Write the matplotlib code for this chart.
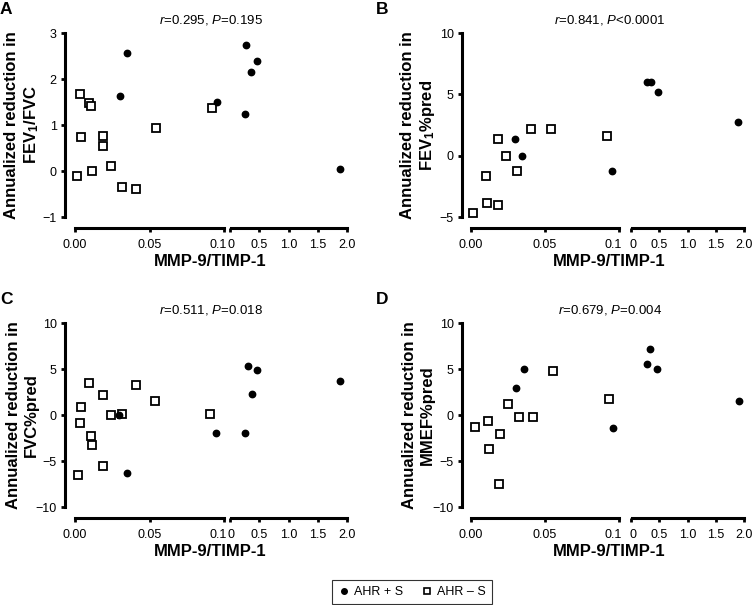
import matplotlib.pyplot as plt
from matplotlib.lines import Line2D
import matplotlib.transforms as mtransforms
import numpy as np

plt.rcParams['font.family'] = ['Liberation Sans', 'DejaVu Sans']
plt.rcParams['mathtext.fontset'] = 'custom'
plt.rcParams['mathtext.rm'] = 'Liberation Sans'
plt.rcParams['mathtext.it'] = 'Liberation Sans:italic'
plt.rcParams['mathtext.bf'] = 'Liberation Sans:bold'
plt.rcParams['mathtext.default'] = 'regular'

# ---- data (x = MMP-9/TIMP-1 ratio, y = annualized reduction) ----
# A: FEV1/FVC
a_open_x = [0.0034, 0.0095, 0.0106, 0.0038, 0.0187, 0.0185, 0.0016, 0.0115, 0.0243, 0.0318, 0.0408, 0.0543, 0.0919]
a_open_y = [1.68, 1.48, 1.41, 0.74, 0.76, 0.55, -0.10, 0.0, 0.10, -0.34, -0.40, 0.94, 1.38]
a_fill_x = [0.0349, 0.0300, 0.0953, 0.28, 0.36, 0.46, 0.25, 1.88]
a_fill_y = [2.56, 1.62, 1.51, 2.75, 2.16, 2.40, 1.25, 0.05]

# B: FEV1%pred
b_open_x = [0.0011, 0.0101, 0.0110, 0.0182, 0.0182, 0.0239, 0.0313, 0.0405, 0.0543, 0.0917]
b_open_y = [-4.65, -1.65, -3.83, -4.05, 1.38, 0.0, -1.24, 2.2, 2.2, 1.57]
b_fill_x = [0.0295, 0.0347, 0.0953, 0.28, 0.35, 0.47, 1.89]
b_fill_y = [1.38, 0.0, -1.24, 6.02, 6.02, 5.2, 2.77]

# C: FVC%pred
c_open_x = [0.0018, 0.0038, 0.0036, 0.0095, 0.0106, 0.0115, 0.0185, 0.0185, 0.0241, 0.0318, 0.0408, 0.0538, 0.0908]
c_open_y = [-6.55, 0.91, -0.91, 3.53, -2.29, -3.31, 2.15, -5.53, 0.0, 0.11, 3.31, 1.56, 0.11]
c_fill_x = [0.0297, 0.0347, 0.0946, 0.30, 0.47, 0.37, 0.26, 1.88]
c_fill_y = [0.0, -6.29, -1.93, 5.35, 4.9, 2.29, -1.93, 3.75]

# D: MMEF%pred
d_open_x = [0.0025, 0.0114, 0.0121, 0.0193, 0.0190, 0.0249, 0.0325, 0.0419, 0.0554, 0.0930]
d_open_y = [-1.27, -0.65, -3.67, -2.07, -7.49, 1.16, -0.25, -0.25, 4.73, 1.75]
d_fill_x = [0.0305, 0.0359, 0.0961, 0.28, 0.34, 0.46, 1.91]
d_fill_y = [2.98, 4.95, -1.45, 5.56, 7.16, 4.95, 1.56]

stats = ['0.295', '0.195', '0.841', '<0.0001', '0.511', '0.018', '0.679', '0.004']
ylabels = ['Annualized reduction in\nFEV$_1$/FVC',
           'Annualized reduction in\nFEV$_1$%pred',
           'Annualized reduction in\nFVC%pred',
           'Annualized reduction in\nMMEF%pred']
yticks_list = [[-1, 0, 1, 2, 3], [-5, 0, 5, 10], [-10, -5, 0, 5, 10], [-10, -5, 0, 5, 10]]

W, H = 753, 605
fig = plt.figure(figsize=(W / 100, H / 100), dpi=100)


def add_px(x0, x1, ytop, ybot):
    return fig.add_axes([x0 / W, 1 - ybot / H, (x1 - x0) / W, (ybot - ytop) / H])


def shift_label(lab, dx):
    lab.set_transform(lab.get_transform() + mtransforms.ScaledTranslation(dx / 100, 0, fig.dpi_scale_trans))


def style(ax):
    for s in ['top', 'right']:
        ax.spines[s].set_visible(False)
    ax.spines['bottom'].set_linewidth(2.2)
    ax.spines['left'].set_linewidth(2.2)
    ax.spines['bottom'].set_position(('outward', 8))
    ax.tick_params(axis='both', width=2, length=3, labelsize=9, colors='black')
    ax.tick_params(axis='x', pad=5)
    ax.tick_params(axis='y', pad=3)
    ax.patch.set_alpha(0)


def panel(letter, ox, xs, ys, ylab, yticks, stat, open_x, open_y, fill_x, fill_y):
    yspine, l0, l1, r0, r2 = xs
    ytop, ybot = ys
    axl = add_px(yspine, l1, ytop, ybot)
    axr = add_px(r0, r2, ytop, ybot)
    ox_ = np.array(open_x); oy_ = np.array(open_y)
    fx_ = np.array(fill_x); fy_ = np.array(fill_y)
    for ax, m_o, m_f in [(axl, ox_ <= 0.1, fx_ <= 0.1), (axr, ox_ > 0.1, fx_ > 0.1)]:
        ax.plot(ox_[m_o], oy_[m_o], 's', ms=6, mfc='white', mec='black', mew=1.3, clip_on=False, ls='none')
        ax.plot(fx_[m_f], fy_[m_f], 'o', ms=4.6, mfc='black', mec='black', clip_on=False, ls='none')
        style(ax)
        ax.set_ylim(yticks[0], yticks[-1])
    axl.set_xlim(-(l0 - yspine) / (l1 - l0) * 0.1, 0.1)
    axl.spines['bottom'].set_bounds(0, 0.1)
    axl.set_xticks([0, 0.05, 0.1])
    axl.set_xticklabels(['0.00', '0.05', '0.1'])
    shift_label(axl.get_xticklabels()[-1], -6)
    axl.set_yticks(yticks)
    axl.set_yticklabels([str(t).replace('-', '\u2212') for t in yticks])
    axr.set_xlim(0, 2.0)
    axr.spines['bottom'].set_bounds(0.02, 2.0)
    axr.set_xticks([0, 0.5, 1.0, 1.5, 2.0])
    axr.set_xticklabels(['0', '0.5', '1.0', '1.5', '2.0'])
    shift_label(axr.get_xticklabels()[0], 1.5)
    axr.spines['left'].set_visible(False)
    axr.set_yticks([])

    cx = ox + (211 if ox < 300 else 234)
    fig.text(ox / W, 1 - (ytop - 31) / H, letter, fontsize=12.5, fontweight='bold', ha='left', va='top')
    fig.text(cx / W, 1 - (ytop - 13) / H,
             r'$\mathit{r}$=' + stat[0] + r', $\mathit{P}$' + ('' if stat[1].startswith('<') else '=') + stat[1],
             fontsize=9.5, ha='center', va='center')
    fig.text((cx - 1) / W, 1 - (ytop + 229) / H, 'MMP-9/TIMP-1', fontsize=12, fontweight='bold',
             ha='center', va='center')
    ylx = ox + (22.5 if ox < 300 else 42.5)
    fig.text(ylx / W, 1 - ((ytop + ybot) / 2) / H, ylab, fontsize=12, fontweight='bold',
             rotation=90, ha='center', va='center', multialignment='center', linespacing=1.2)


xa = (65, 75, 224, 230, 347)
xb = (462, 471, 619, 631, 744)
panel('A', 0, xa, (33, 217), ylabels[0], yticks_list[0], stats[0:2], a_open_x, a_open_y, a_fill_x, a_fill_y)
panel('B', 376, xb, (33, 217), ylabels[1], yticks_list[1], stats[2:4], b_open_x, b_open_y, b_fill_x, b_fill_y)
panel('C', 0, xa, (323, 507), ylabels[2], yticks_list[2], stats[4:6], c_open_x, c_open_y, c_fill_x, c_fill_y)
panel('D', 376, xb, (323, 507), ylabels[3], yticks_list[3], stats[6:8], d_open_x, d_open_y, d_fill_x, d_fill_y)

handles = [Line2D([], [], marker='o', ls='none', ms=4, mfc='black', mec='black'),
           Line2D([], [], marker='s', ls='none', ms=5, mfc='white', mec='black', mew=1.2)]
leg = fig.legend(handles, ['AHR + S', 'AHR \u2013 S'], loc='center', bbox_to_anchor=(412 / W, 1 - 592 / H),
                 ncol=2, fontsize=9, frameon=True, fancybox=False, handlelength=0.8, handletextpad=0.4,
                 columnspacing=1.5, borderpad=0.5)
leg.get_frame().set_edgecolor('black')
leg.get_frame().set_linewidth(0.8)

fig.savefig('out.png', dpi=100)
